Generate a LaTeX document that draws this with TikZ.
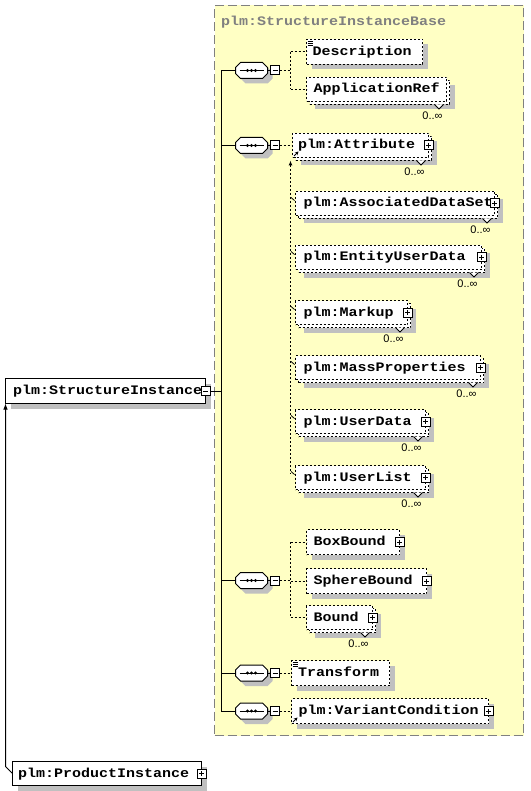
\documentclass[tikz,border=0pt]{standalone}
\usepackage{fontspec}
\newfontfamily\xmono{Liberation Mono}[FakeStretch=1.154]
\newfontfamily\xsans{Liberation Sans}
\usetikzlibrary{arrows.meta,calc}
\definecolor{grpfill}{RGB}{255,255,196}
\definecolor{grpline}{RGB}{128,128,128}
\definecolor{shadowc}{RGB}{192,192,192}

% octagon path (compositor)
\newcommand\octdraw[3]{\path[#1] (#2-16,#3-3) -- (#2-11,#3-8) -- (#2+11,#3-8) -- (#2+16,#3-3) -- (#2+16,#3+3) -- (#2+11,#3+8) -- (#2-11,#3+8) -- (#2-16,#3+3) -- cycle;}
% plain box with shadow: style, name, L, T, W, H
\newcommand\xbox[6]{%
  \fill[shadowc] (#3+5,#4+5) rectangle ++(#5,#6);
  \node[#1, minimum width=#5, minimum height=#6] (#2) at (#3,#4) {};}
% repeated (0..inf) box: name, L, T, W, H
\newcommand\xrep[5]{%
  \fill[shadowc] (#2+8,#3+8) rectangle ++(#4,#5);
  \node[boxdash, minimum width=#4, minimum height=#5] (#1b) at (#2+3,#3+3) {};
  \node[boxdash, minimum width=#4, minimum height=#5] (#1) at (#2,#3) {};
  \draw[notch] ($(#1b.south east)+(-15,0)$) -- ++(4.5,4.5) -- ++(4.5,-4.5);
  \node[occ] (#1o) at ($(#1b.south east)+(-7,11)$) {0..∞};}
\newcommand\xplus[2]{%
  \node[sqbox] (#1) at (#2) {};
  \draw[line width=0.8pt] ($(#1.center)+(-2.5,0)$) -- ($(#1.center)+(2.5,0)$) ($(#1.center)+(0,-2.5)$) -- ($(#1.center)+(0,2.5)$);}
\newcommand\xminus[2]{%
  \node[sqbox] (#1) at (#2) {};
  \draw[line width=0.8pt] ($(#1.center)+(-2.5,0)$) -- ($(#1.center)+(2.5,0)$);}
\newcommand\xseq[3]{%
  \octdraw{fill=shadowc}{#2+5}{#3+5}
  \octdraw{draw=black,fill=white,line width=1pt}{#2}{#3}
  \node[minimum width=32, minimum height=16] (#1) at (#2,#3) {};
  \draw[line width=1pt] (#2-12,#3) -- (#2+12,#3);
  \fill (#2-4,#3) circle (1.6) (#2,#3) circle (1.6) (#2+4,#3) circle (1.6);
  \xminus{#1m}{#2+23.5,#3}
  \draw[line width=1pt] (#1.east) -- (#1m.west);}
\newcommand\xsimple[1]{%
  \draw[line width=0.8pt] ($(#1.north west)+(1,1.5)$) -- ++(5,0) ++(-5,2) -- ++(5,0) ++(-5,2) -- ++(5,0);}
\newcommand\xref[1]{%
  \draw[line width=0.8pt, -{Stealth[length=3.5pt,width=3.5pt]}] ($(#1.south west)+(1.5,-1.5)$) -- ++(4.5,-4.5);}

\begin{document}
\begin{tikzpicture}[x=1pt,y=-1pt,
  every node/.style={inner sep=0pt, outer sep=0pt},
  boxsolid/.style={draw=black, fill=white, line width=1pt, rectangle, anchor=north west},
  boxdash/.style={boxsolid, dash pattern=on 2pt off 2pt},
  sqbox/.style={draw=black, fill=white, line width=1pt, rectangle, minimum size=9},
  notch/.style={draw=black, fill=white, line width=0.8pt},
  lbl/.style={font=\xmono\bfseries\fontsize{13}{13}\selectfont, anchor=base west},
  occ/.style={font=\xsans\fontsize{11}{11}\selectfont, anchor=east},
  conn/.style={line width=1pt, draw=black},
  dconn/.style={conn, dash pattern=on 2pt off 2pt},
  tickc/.style={line width=0.8pt, draw=black},
  grp/.style={fill=grpfill, draw=grpline, line width=1pt, dash pattern=on 9pt off 4pt, rectangle, anchor=north west},
]
\useasboundingbox (0,0) rectangle (530,791);
\fill[white] (0,0) rectangle (530,791);
\begin{scope}[shift={(0.5,0.5)}]
% group box
\node[grp, minimum width=309, minimum height=730] (grp) at (214,5) {};
\node[lbl, text=grpline] (title) at (220.5,25) {plm:StructureInstanceBase};

% StructureInstance
\xbox{boxsolid}{SI}{5}{378}{200}{25}
\node[lbl] (SIt) at (12.5,394) {plm:StructureInstance};
\xminus{SIm}{SI.east}

% ProductInstance
\xbox{boxsolid}{PI}{12}{761}{189}{24}
\node[lbl] (PIt) at (17.5,776.5) {plm:ProductInstance};
\xplus{PIp}{PI.east}

% sequence 1
\xseq{sa}{251}{70}
\xbox{boxdash}{desc}{306}{39}{116}{25}
\node[lbl] (desct) at (312,55) {Description};
\xsimple{desc}
\xrep{appref}{306}{77}{140}{24}
\node[lbl] (appreft) at (313,92.5) {ApplicationRef};

% sequence 2
\xseq{sb}{251}{145}
\xrep{attr}{292}{133}{136}{24}
\node[lbl] (attrt) at (297.5,148.5) {plm:Attribute};
\xplus{attrp}{attr.east}
\xref{attr}
\xrep{ads}{295}{191}{199}{24}
\node[lbl] (adst) at (303,206.5) {plm:AssociatedDataSet};
\xplus{adsp}{ads.east}
\xrep{eud}{295}{245}{186}{24}
\node[lbl] (eudt) at (303,260.5) {plm:EntityUserData};
\xplus{eudp}{eud.east}
\xrep{mk}{295}{300}{112}{24}
\node[lbl] (mkt) at (303,315.5) {plm:Markup};
\xplus{mkp}{mk.east}
\xrep{mp}{295}{355}{185}{24}
\node[lbl] (mpt) at (303,370.5) {plm:MassProperties};
\xplus{mpp}{mp.east}
\xrep{ud}{295}{409}{130}{24}
\node[lbl] (udt) at (303,424.5) {plm:UserData};
\xplus{udp}{ud.east}
\xrep{ul}{295}{465}{130}{24}
\node[lbl] (ult) at (303,480.5) {plm:UserList};
\xplus{ulp}{ul.east}

% sequence 3
\xseq{sc}{251}{580}
\xbox{boxdash}{bb}{306}{529}{93}{25}
\node[lbl] (bbt) at (313,545) {BoxBound};
\xplus{bbp}{bb.east}
\xbox{boxdash}{sp}{306}{568}{120}{25}
\node[lbl] (spt) at (313,584) {SphereBound};
\xplus{spp}{sp.east}
\xrep{bd}{306}{605}{66}{24}
\node[lbl] (bdt) at (313,620.5) {Bound};
\xplus{bdp}{bd.east}

% sequence 4
\xseq{sd}{251}{672.5}
\xbox{boxdash}{tf}{291}{660}{98}{25}
\node[lbl] (tft) at (297.5,676) {Transform};
\xsimple{tf}

% sequence 5
\xseq{se}{251}{710.5}
\xbox{boxdash}{vc}{291}{698}{197}{25}
\node[lbl] (vct) at (298,714) {plm:VariantCondition};
\xplus{vcp}{vc.east}
\xref{vc}

% connectors
\coordinate (tk) at (221,0);
\coordinate (vx) at (290,0);
\draw[conn] (sa.west) -- (sa.west -| tk) -- (se.west -| tk) -- (se.west);
\draw[conn] (sb.west) -- (sb.west -| tk);
\draw[conn] (sc.west) -- (sc.west -| tk);
\draw[conn] (sd.west) -- (sd.west -| tk);
\draw[conn] (SIm.east) -- (SIm.east -| tk);
\draw[conn, -{Latex[length=6pt,width=4.5pt]}] (PI.west) -- ++(-7,-7) -- (SI.south west);

% seq 1 children
\draw[dconn] (sam.east) -- (sam.east -| vx);
\draw[dconn] (desc.west -| vx) -- (appref.west -| vx);
\draw[dconn] (desc.west -| vx) -- (desc.west);
\draw[dconn] (appref.west -| vx) -- (appref.west);

% seq 2 children
\draw[dconn] (sbm.east) -- (sbm.east -| attr.west);
\draw[dconn, {Latex[length=5pt,width=4pt]}-] (vx |- attrb.south) -- ($(vx |- ul.west)+(0,-4)$);
\foreach \n in {ads,eud,mk,mp,ud,ul}{
  \draw[tickc] ($(\n.west)+(-4.5,-6)$) -- ($(\n.west)+(-1,-3)$);
}

% seq 3 children
\draw[dconn] (scm.east) -- (scm.east -| vx);
\draw[dconn] (bb.west -| vx) -- (bd.west -| vx);
\draw[dconn] (bb.west -| vx) -- (bb.west);
\draw[dconn] (sp.west -| vx) -- (sp.west);
\draw[dconn] (bd.west -| vx) -- (bd.west);

% seq 4, 5 children
\draw[dconn] (sdm.east) -- (tf.west);
\draw[dconn] (sem.east) -- (vc.west);
\end{scope}
\end{tikzpicture}
\end{document}
